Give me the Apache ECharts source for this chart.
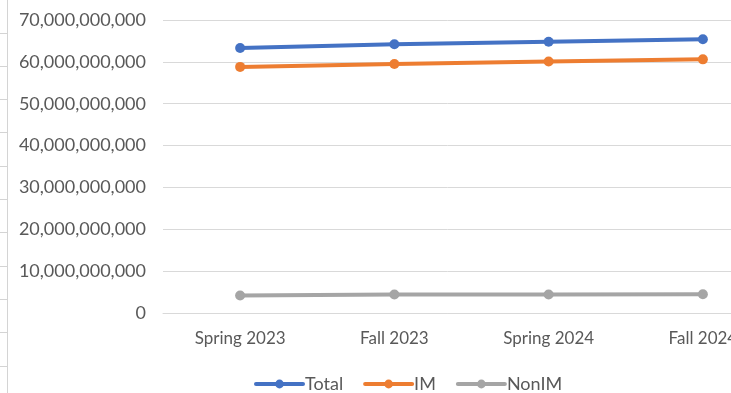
<!DOCTYPE html>
<html>
<head>
<meta charset="utf-8">
<script src="https://cdn.jsdelivr.net/npm/echarts@6/dist/echarts.min.js"></script>
<style>
  html, body { margin: 0; padding: 0; background: #fff; }
  #chart { width: 731px; height: 393px; }
</style>
</head>
<body>
<div id="chart"></div>
<script>
// Terms on the category axis
const terms = ['Spring 2023', 'Fall 2023', 'Spring 2024', 'Fall 2024'];

// Series values per term
const totalValues = [63300000000, 64200000000, 64800000000, 65400000000];
const imValues    = [58800000000, 59500000000, 60100000000, 60600000000];
const nonImValues = [4200000000, 4400000000, 4400000000, 4500000000];

// Value axis range and step
const yMin = 0;
const yMax = 70000000000;
const yStep = 10000000000;

const FONT = 'Lato';
const LABEL_COLOR = '#595959';

// Light worksheet cell borders along the left edge
const sheetLines = [{
  type: 'line',
  shape: { x1: 7.5, y1: 0, x2: 7.5, y2: 393 },
  style: { stroke: '#d4d4d4', lineWidth: 1 },
  silent: true
}];
for (let y = 32.5; y < 393; y += 33.33) {
  sheetLines.push({
    type: 'line',
    shape: { x1: 0, y1: Math.round(y) + 0.5, x2: 7, y2: Math.round(y) + 0.5 },
    style: { stroke: '#d4d4d4', lineWidth: 1 },
    silent: true
  });
}

function lineSeries(name, values, color) {
  return {
    name: name,
    type: 'line',
    data: values,
    symbol: 'circle',
    symbolSize: 10,
    lineStyle: { color: color, width: 4, cap: 'round' },
    itemStyle: { color: color, borderWidth: 0 },
    emphasis: { disabled: true },
    animation: false
  };
}

const chart = echarts.init(document.getElementById('chart'), null, { renderer: 'canvas' });
chart.setOption({
  backgroundColor: '#ffffff',
  animation: false,
  graphic: sheetLines,
  // the plot area runs past the right edge of the page
  grid: { left: 163, top: 20, width: 617, height: 293, containLabel: false, outerBoundsMode: 'none' },
  xAxis: {
    type: 'category',
    data: terms,
    boundaryGap: true,
    axisLine: { show: true, lineStyle: { color: '#d9d9d9', width: 1 } },
    axisTick: { show: false },
    axisLabel: { color: LABEL_COLOR, fontFamily: FONT, fontSize: 17, margin: 17, interval: 0 },
    splitLine: { show: false }
  },
  yAxis: {
    type: 'value',
    min: yMin,
    max: yMax,
    interval: yStep,
    axisLine: { show: false },
    axisTick: { show: false },
    axisLabel: {
      color: LABEL_COLOR,
      fontFamily: FONT,
      fontSize: 18,
      margin: 17,
      formatter: v => v.toLocaleString('en-US')
    },
    splitLine: { lineStyle: { color: '#d9d9d9', width: 1 } }
  },
  legend: {
    data: ['Total', 'IM', 'NonIM'],
    left: 249,
    top: 370,
    itemWidth: 47,
    itemHeight: 11,
    itemGap: 20,
    lineStyle: { width: 4 },
    textStyle: { color: LABEL_COLOR, fontFamily: FONT, fontSize: 18, padding: [0, 0, 0, -3] }
  },
  series: [
    lineSeries('Total', totalValues, '#4472C4'),
    lineSeries('IM', imValues, '#ED7D31'),
    lineSeries('NonIM', nonImValues, '#A5A5A5')
  ]
});
</script>
</body>
</html>
